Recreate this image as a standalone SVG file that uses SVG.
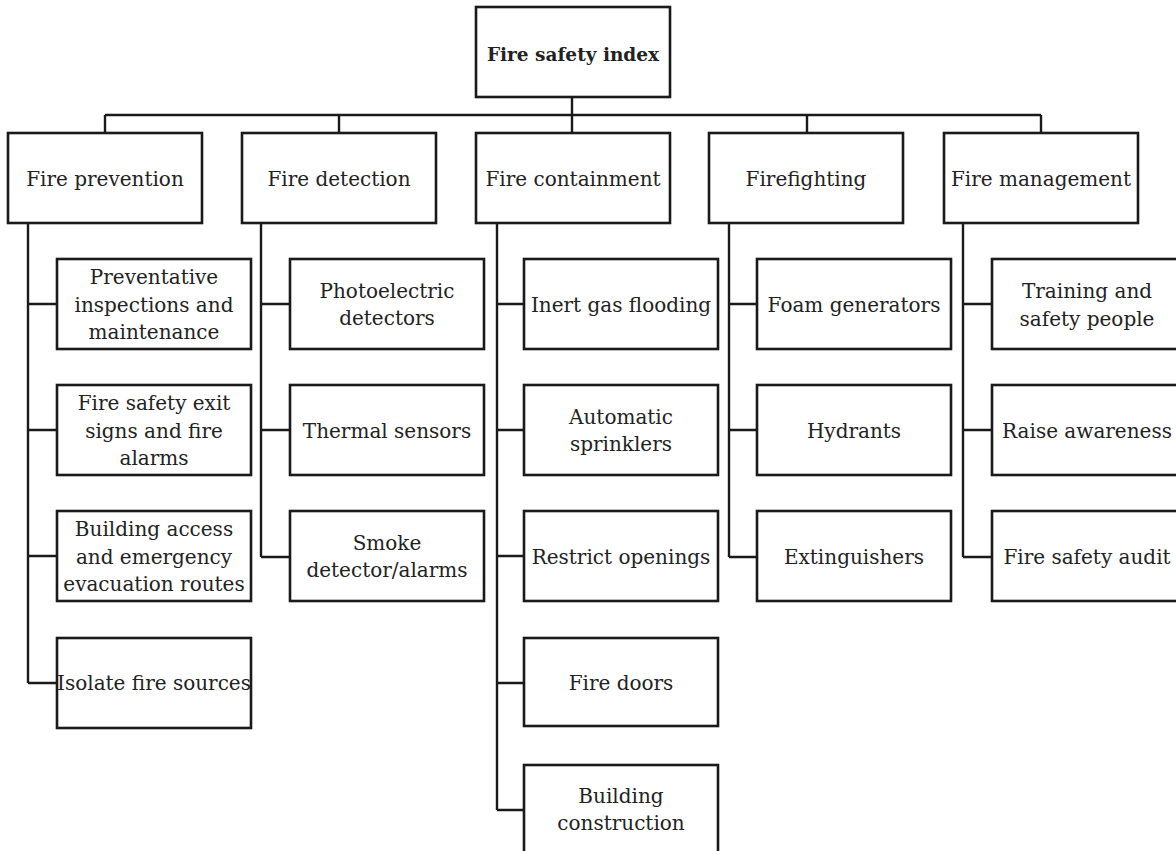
<svg xmlns="http://www.w3.org/2000/svg" width="1176" height="851" viewBox="0 0 1176 851">
<style>
rect{fill:#fff;stroke:#1a1a1a;stroke-width:2.6}
.c line,.c path{stroke:#1a1a1a;stroke-width:2.4;fill:none}
text{font-family:"DejaVu Serif","Liberation Serif",serif;font-size:20px;fill:#222;text-anchor:middle}
.b{font-weight:bold;font-size:18.5px}
</style>
<rect x="0" y="0" width="1176" height="851" style="fill:#fff;stroke:none"/>
<g class="c" id="connectors">
<line x1="572" y1="97" x2="572" y2="133"/>
<line x1="105" y1="115" x2="1041" y2="115"/>
<line x1="105" y1="115" x2="105" y2="133"/>
<line x1="339" y1="115" x2="339" y2="133"/>
<line x1="807" y1="115" x2="807" y2="133"/>
<line x1="1041" y1="115" x2="1041" y2="133"/>
<path d="M28 223V683M28 304H57M28 430H57M28 556H57M28 683H57"/>
<path d="M261 223V557M261 304H290M261 430H290M261 557H290"/>
<path d="M497 223V810M497 304H524M497 430H524M497 556H524M497 683H524M497 810H524"/>
<path d="M729 223V557M729 304H757M729 430H757M729 557H757"/>
<path d="M963 223V557M963 304H992M963 430H992M963 557H992"/>
</g>
<g id="root"><rect x="476" y="7" width="194" height="90"/><text class="b" x="573" y="61">Fire safety index</text></g>
<g id="prevention"><rect x="8" y="133" width="194" height="90"/><text x="105" y="186">Fire prevention</text></g>
<g id="detection"><rect x="242" y="133" width="194" height="90"/><text x="339" y="186">Fire detection</text></g>
<g id="containment"><rect x="476" y="133" width="194" height="90"/><text x="573" y="186">Fire containment</text></g>
<g id="firefighting"><rect x="709" y="133" width="194" height="90"/><text x="806" y="186">Firefighting</text></g>
<g id="management"><rect x="944" y="133" width="194" height="90"/><text x="1041" y="186">Fire management</text></g>

<g id="p1"><rect x="57" y="259" width="194" height="90"/><text x="154" y="284">Preventative</text><text x="154" y="312">inspections and</text><text x="154" y="339">maintenance</text></g>
<g id="p2"><rect x="57" y="385" width="194" height="90"/><text x="154" y="410">Fire safety exit</text><text x="154" y="438">signs and fire</text><text x="154" y="465">alarms</text></g>
<g id="p3"><rect x="57" y="511" width="194" height="90"/><text x="154" y="536">Building access</text><text x="154" y="564">and emergency</text><text x="154" y="591">evacuation routes</text></g>
<g id="p4"><rect x="57" y="638" width="194" height="90"/><text x="154" y="690">Isolate fire sources</text></g>

<g id="d1"><rect x="290" y="259" width="194" height="90"/><text x="387" y="298">Photoelectric</text><text x="387" y="325">detectors</text></g>
<g id="d2"><rect x="290" y="385" width="194" height="90"/><text x="387" y="438">Thermal sensors</text></g>
<g id="d3"><rect x="290" y="511" width="194" height="90"/><text x="387" y="550">Smoke</text><text x="387" y="577">detector/alarms</text></g>

<g id="c1"><rect x="524" y="259" width="194" height="90"/><text x="621" y="312">Inert gas flooding</text></g>
<g id="c2"><rect x="524" y="385" width="194" height="90"/><text x="621" y="424">Automatic</text><text x="621" y="451">sprinklers</text></g>
<g id="c3"><rect x="524" y="511" width="194" height="90"/><text x="621" y="564">Restrict openings</text></g>
<g id="c4"><rect x="524" y="638" width="194" height="88"/><text x="621" y="690">Fire doors</text></g>
<g id="c5"><rect x="524" y="765" width="194" height="90"/><text x="621" y="803">Building</text><text x="621" y="830">construction</text></g>

<g id="f1"><rect x="757" y="259" width="194" height="90"/><text x="854" y="312">Foam generators</text></g>
<g id="f2"><rect x="757" y="385" width="194" height="90"/><text x="854" y="438">Hydrants</text></g>
<g id="f3"><rect x="757" y="511" width="194" height="90"/><text x="854" y="564">Extinguishers</text></g>

<g id="m1"><rect x="992" y="259" width="194" height="90"/><text x="1087" y="298">Training and</text><text x="1087" y="326">safety people</text></g>
<g id="m2"><rect x="992" y="385" width="194" height="90"/><text x="1087" y="438">Raise awareness</text></g>
<g id="m3"><rect x="992" y="511" width="194" height="90"/><text x="1087" y="564">Fire safety audit</text></g>
</svg>
